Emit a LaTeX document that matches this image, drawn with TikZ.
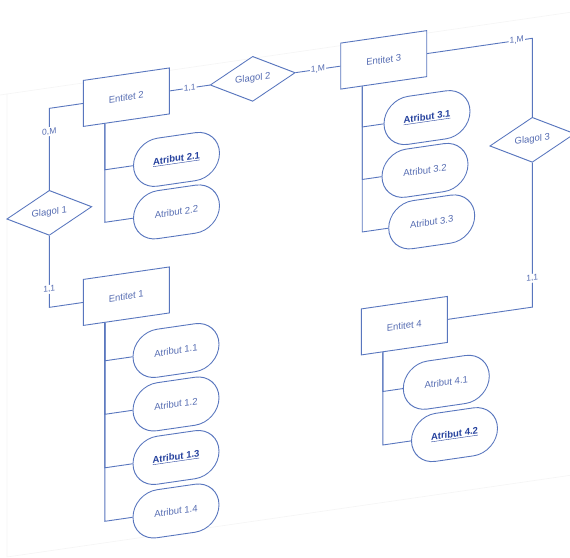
\documentclass[tikz,border=0pt]{standalone}
\usepackage{fontspec}
\setmainfont{Liberation Sans}
\usetikzlibrary{shapes.geometric}
\definecolor{lineblue}{RGB}{88,118,190}
\definecolor{textblue}{RGB}{85,108,178}
\definecolor{keyblue}{RGB}{38,66,158}
\tikzset{
  ent/.style={draw=lineblue, line width=0.9pt, fill=white, minimum width=86pt, minimum height=46pt, inner sep=1pt, text=textblue, font=\fontsize{9.5}{11}\selectfont},
  rel/.style={draw=lineblue, line width=0.9pt, fill=white, diamond, minimum width=85pt, minimum height=45pt, inner sep=0pt, text=textblue, font=\fontsize{9.5}{11}\selectfont},
  attr/.style={draw=lineblue, line width=0.9pt, fill=white, rounded corners=24pt, minimum width=86pt, minimum height=48pt, inner sep=1pt, text=textblue, font=\fontsize{9.5}{11}\selectfont},
  keyattr/.style={attr, text=keyblue},
  lab/.style={fill=white, inner sep=1pt, text=textblue, font=\fontsize{8.5}{10}\selectfont},
  conn/.style={draw=lineblue, line width=0.9pt},
  pageedge/.style={draw=black!4, line width=0.6pt}
}
\newcommand{\keytxt}[1]{\underline{\textbf{#1}}}
\begin{document}
\begin{tikzpicture}[x=1pt,y=-1pt]
\useasboundingbox (0,0) rectangle (570,557);
\fill[white] (0,0) rectangle (570,557);
\begin{scope}[transform canvas={yslant=0.145}]
  % faint page edges
  \coordinate (p1) at (0,95);
  \coordinate (p2) at (575,95);
  \coordinate (p3) at (7,95);
  \coordinate (p4) at (7,558);
  \coordinate (p5) at (575,558);
  \draw[pageedge] (p1) -- (p2);
  \draw[pageedge] (p3) -- (p4) -- (p5);

  % relationship and entity nodes
  \node[ent] (e2) at (126.3,115.5) {Entitet 2};
  \node[rel] (g2) at (252.7,115.5) {Glagol 2};
  \node[ent] (e3) at (383.7,115.5) {Entitet 3};
  \node[rel] (g1) at (49.3,220) {Glagol 1};
  \node[rel] (g3) at (532.3,217) {Glagol 3};
  \node[ent] (e1) at (126.3,314.5) {Entitet 1};
  \node[ent] (e4) at (404.3,384.3) {Entitet 4};

  % attributes
  \node[keyattr] (a21) at (176.5,185) {\keytxt{Atribut 2.1}};
  \node[attr] (a22) at (176.5,237.5) {Atribut 2.2};
  \node[keyattr] (a31) at (427,179.5) {\keytxt{Atribut 3.1}};
  \node[attr] (a32) at (425,232) {Atribut 3.2};
  \node[attr] (a33) at (431.7,284.5) {Atribut 3.3};
  \node[attr] (a11) at (176,376) {Atribut 1.1};
  \node[attr] (a12) at (176,429.5) {Atribut 1.2};
  \node[keyattr] (a13) at (176,483) {\keytxt{Atribut 1.3}};
  \node[attr] (a14) at (176,536.5) {Atribut 1.4};
  \node[attr] (a41) at (446.3,447) {Atribut 4.1};
  \node[keyattr] (a42) at (454.5,500.5) {\keytxt{Atribut 4.2}};

  % attribute connectors
  \draw[conn] ([xshift=22pt]e2.south west) |- (a21.west);
  \draw[conn] ([xshift=22pt]e2.south west) |- (a22.west);
  \draw[conn] ([xshift=22pt]e3.south west) |- (a31.west);
  \draw[conn] ([xshift=22pt]e3.south west) |- (a32.west);
  \draw[conn] ([xshift=22pt]e3.south west) |- (a33.west);
  \draw[conn] ([xshift=22pt]e1.south west) |- (a11.west);
  \draw[conn] ([xshift=22pt]e1.south west) |- (a12.west);
  \draw[conn] ([xshift=22pt]e1.south west) |- (a13.west);
  \draw[conn] ([xshift=22pt]e1.south west) |- (a14.west);
  \draw[conn] ([xshift=22pt]e4.south west) |- (a41.west);
  \draw[conn] ([xshift=22pt]e4.south west) |- (a42.west);

  % relationship connectors
  \draw[conn] (e2.east) -- node[lab]{1,1} (g2.west);
  \draw[conn] (g2.east) -- node[lab]{1,M} (e3.west);
  \draw[conn] (e3.east) -| node[lab,pos=0.426]{1,M} (g3.north);
  \draw[conn] (g3.south) |- node[lab,pos=0.40]{1,1} (e4.east);
  \draw[conn] (e2.west) -| node[lab,pos=0.643]{0,M} (g1.north);
  \draw[conn] (g1.south) |- node[lab,pos=0.374]{1,1} (e1.west);
\end{scope}
\end{tikzpicture}
\end{document}
